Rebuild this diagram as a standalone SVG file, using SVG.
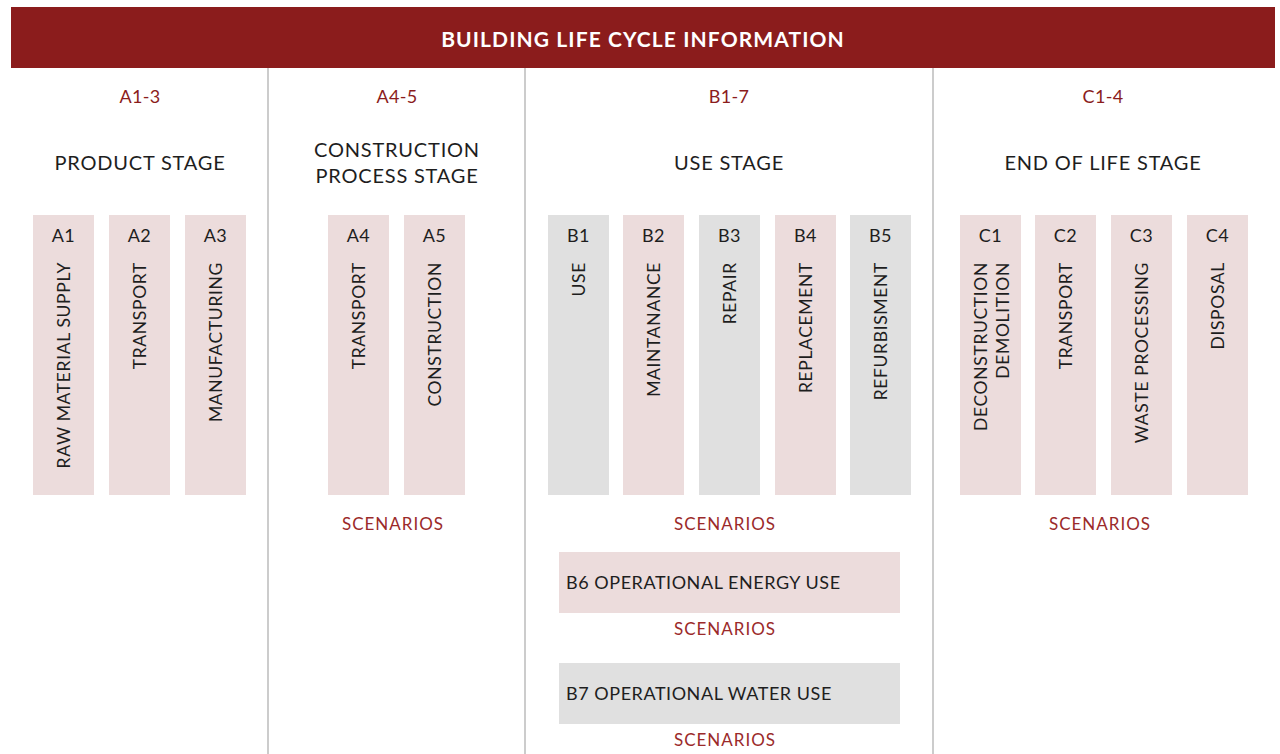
<svg xmlns="http://www.w3.org/2000/svg" width="1280" height="754" viewBox="0 0 1280 754">
<style>
text{font-family:Lato,"Open Sans","Liberation Sans",sans-serif;fill:#1e1e1e}
.hd{font-weight:bold;fill:#fff;font-size:21px;letter-spacing:1.1px}
.code{fill:#8b1c1c;font-size:18px;letter-spacing:0.3px}
.stage{font-size:20px;letter-spacing:0.8px}
.lbl{font-size:18px;letter-spacing:0.55px}
.vl{font-size:17.5px;letter-spacing:0.65px}
.sc{fill:#9b2a2a;font-size:17px;letter-spacing:1px}
.pk{fill:#ecdcdc}
.gy{fill:#e0e0e0}
.div{stroke:#cccccc;stroke-width:2}
</style>
<rect width="1280" height="754" fill="#fff"/>
<g id="header"><rect x="11" y="7" width="1264" height="61" fill="#8b1c1c"/><text class="hd" x="643" y="47" text-anchor="middle">BUILDING LIFE CYCLE INFORMATION</text></g>
<g id="dividers"><line class="div" x1="268" y1="68" x2="268" y2="754"/><line class="div" x1="525" y1="68" x2="525" y2="754"/><line class="div" x1="933" y1="68" x2="933" y2="754"/></g>
<g id="stageA13"><text class="code" x="140" y="103" text-anchor="middle">A1-3</text><text class="stage" x="140" y="170" text-anchor="middle">PRODUCT STAGE</text></g>
<g id="stageA45"><text class="code" x="397" y="103" text-anchor="middle">A4-5</text><text class="stage" x="397" y="157" text-anchor="middle">CONSTRUCTION</text><text class="stage" x="397" y="183" text-anchor="middle">PROCESS STAGE</text><text class="sc" x="393" y="530" text-anchor="middle">SCENARIOS</text></g>
<g id="stageB17"><text class="code" x="729" y="103" text-anchor="middle">B1-7</text><text class="stage" x="729" y="170" text-anchor="middle">USE STAGE</text><text class="sc" x="725" y="530" text-anchor="middle">SCENARIOS</text></g>
<g id="stageC14"><text class="code" x="1103" y="103" text-anchor="middle">C1-4</text><text class="stage" x="1103" y="170" text-anchor="middle">END OF LIFE STAGE</text><text class="sc" x="1100" y="530" text-anchor="middle">SCENARIOS</text></g>
<g id="A1"><rect class="pk" x="33" y="215" width="61" height="280"/><text class="lbl" x="63.5" y="242" text-anchor="middle">A1</text><text class="vl" transform="translate(70,262) rotate(-90)" text-anchor="end">RAW MATERIAL SUPPLY</text></g>
<g id="A2"><rect class="pk" x="109" y="215" width="61" height="280"/><text class="lbl" x="139.5" y="242" text-anchor="middle">A2</text><text class="vl" transform="translate(146,262) rotate(-90)" text-anchor="end">TRANSPORT</text></g>
<g id="A3"><rect class="pk" x="185" y="215" width="61" height="280"/><text class="lbl" x="215.5" y="242" text-anchor="middle">A3</text><text class="vl" transform="translate(222,262) rotate(-90)" text-anchor="end">MANUFACTURING</text></g>
<g id="A4"><rect class="pk" x="328" y="215" width="61" height="280"/><text class="lbl" x="358.5" y="242" text-anchor="middle">A4</text><text class="vl" transform="translate(365,262) rotate(-90)" text-anchor="end">TRANSPORT</text></g>
<g id="A5"><rect class="pk" x="404" y="215" width="61" height="280"/><text class="lbl" x="434.5" y="242" text-anchor="middle">A5</text><text class="vl" transform="translate(441,262) rotate(-90)" text-anchor="end">CONSTRUCTION</text></g>
<g id="B1"><rect class="gy" x="548" y="215" width="61" height="280"/><text class="lbl" x="578.5" y="242" text-anchor="middle">B1</text><text class="vl" transform="translate(585,262) rotate(-90)" text-anchor="end">USE</text></g>
<g id="B2"><rect class="pk" x="623" y="215" width="61" height="280"/><text class="lbl" x="653.5" y="242" text-anchor="middle">B2</text><text class="vl" transform="translate(660,262) rotate(-90)" text-anchor="end">MAINTANANCE</text></g>
<g id="B3"><rect class="gy" x="699" y="215" width="61" height="280"/><text class="lbl" x="729.5" y="242" text-anchor="middle">B3</text><text class="vl" transform="translate(736,262) rotate(-90)" text-anchor="end">REPAIR</text></g>
<g id="B4"><rect class="pk" x="775" y="215" width="61" height="280"/><text class="lbl" x="805.5" y="242" text-anchor="middle">B4</text><text class="vl" transform="translate(812,262) rotate(-90)" text-anchor="end">REPLACEMENT</text></g>
<g id="B5"><rect class="gy" x="850" y="215" width="61" height="280"/><text class="lbl" x="880.5" y="242" text-anchor="middle">B5</text><text class="vl" transform="translate(887,262) rotate(-90)" text-anchor="end">REFURBISMENT</text></g>
<g id="C1"><rect class="pk" x="960" y="215" width="61" height="280"/><text class="lbl" x="990.5" y="242" text-anchor="middle">C1</text><text class="vl" transform="translate(987,262) rotate(-90)" text-anchor="end">DECONSTRUCTION</text><text class="vl" transform="translate(1009,262) rotate(-90)" text-anchor="end">DEMOLITION</text></g>
<g id="C2"><rect class="pk" x="1035" y="215" width="61" height="280"/><text class="lbl" x="1065.5" y="242" text-anchor="middle">C2</text><text class="vl" transform="translate(1072,262) rotate(-90)" text-anchor="end">TRANSPORT</text></g>
<g id="C3"><rect class="pk" x="1111" y="215" width="61" height="280"/><text class="lbl" x="1141.5" y="242" text-anchor="middle">C3</text><text class="vl" transform="translate(1148,262) rotate(-90)" text-anchor="end">WASTE PROCESSING</text></g>
<g id="C4"><rect class="pk" x="1187" y="215" width="61" height="280"/><text class="lbl" x="1217.5" y="242" text-anchor="middle">C4</text><text class="vl" transform="translate(1224,262) rotate(-90)" text-anchor="end">DISPOSAL</text></g>
<g id="B6"><rect class="pk" x="559" y="552" width="341" height="61"/><text class="lbl" x="566" y="589">B6 OPERATIONAL ENERGY USE</text><text class="sc" x="725" y="635" text-anchor="middle">SCENARIOS</text></g>
<g id="B7"><rect class="gy" x="559" y="663" width="341" height="61"/><text class="lbl" x="566" y="700">B7 OPERATIONAL WATER USE</text><text class="sc" x="725" y="746" text-anchor="middle">SCENARIOS</text></g>
<g id="connectors"/>
</svg>
